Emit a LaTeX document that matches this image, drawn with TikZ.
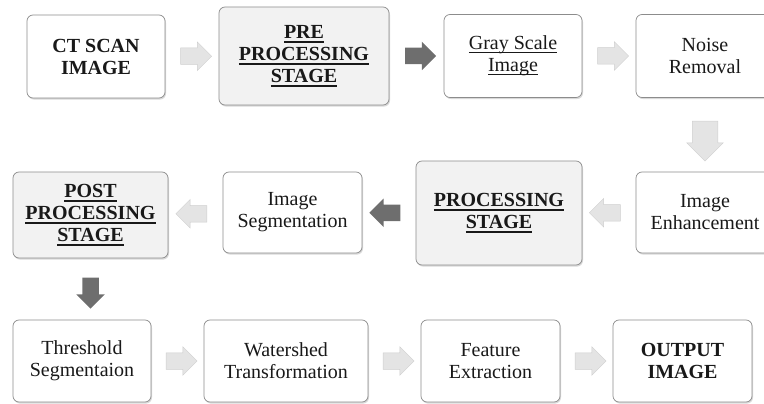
\documentclass[tikz,border=0pt]{standalone}
\usepackage{fontspec}
\setmainfont{Liberation Serif}
\newfontfamily\stepserif{Liberation Serif}
\usetikzlibrary{shapes.arrows,shadows,calc}
\definecolor{boxline}{HTML}{8C8C8C}
\definecolor{boxgray}{HTML}{F2F2F2}
\definecolor{arrdark}{HTML}{6E6E6E}
\definecolor{arrlight}{HTML}{E4E4E4}
\definecolor{arrlightline}{HTML}{CFCFCF}
\newcommand{\stepfont}{\stepserif\fontsize{20}{22}\selectfont}
\newcommand{\thinul}[1]{\setbox0\hbox{#1}\rlap{\copy0}\rule[-3.4pt]{\wd0}{0.8pt}}
\newcommand{\thickul}[1]{\setbox0\hbox{#1}\rlap{\copy0}\rule[-4.4pt]{\wd0}{1.6pt}}
\tikzset{
  stepbox/.style={draw=boxline, line width=0.7pt, rounded corners=6pt, fill=white,
    align=center, inner sep=0pt, minimum width=138pt, minimum height=83pt,
    font=\stepfont, text=black!90,
    drop shadow={shadow xshift=1pt, shadow yshift=-1.6pt, opacity=0.3}},
  boldbox/.style={stepbox, font=\stepfont\bfseries},
  graybox/.style={boldbox, fill=boxgray},
  litarrow/.style={single arrow, draw=arrlightline, fill=arrlight, line width=0.5pt,
    inner sep=8pt, minimum height=31pt, single arrow head extend=6pt},
  darkarrow/.style={litarrow, draw=none, fill=arrdark}
}
\begin{document}
\begin{tikzpicture}[x=1pt, y=-1pt]
    \useasboundingbox (0,0) rectangle (764,404);
    \clip (0,0) rectangle (764,404);
    % first row
    \node[boldbox] (ct) at (96,56.5) {CT SCAN\\IMAGE};
    \node[graybox, minimum width=170pt, minimum height=98pt] (pre) at (304,56)
        {\thickul{PRE}\\\thickul{PROCESSING}\\\thickul{STAGE}};
    \node[stepbox] (gray) at (513,56) {\thinul{Gray Scale}\\\thinul{Image}};
    \node[stepbox] (noise) at (705,56) {Noise\\Removal};
    % second row
    \node[stepbox, minimum height=81pt] (enh) at (705,212.5) {Image\\Enhancement};
    \node[graybox, minimum width=166pt, minimum height=104pt] (proc) at (499,213)
        {\thickul{PROCESSING}\\\thickul{STAGE}};
    \node[stepbox, minimum width=139pt, minimum height=81pt] (seg) at (292.5,212.5)
        {Image\\Segmentation};
    \node[graybox, minimum width=155pt, minimum height=86pt] (post) at (90.5,215)
        {\thickul{POST}\\\thickul{PROCESSING}\\\thickul{STAGE}};
    % third row
    \node[stepbox, minimum height=82pt] (thr) at (82,361) {Threshold\\Segmentaion};
    \node[stepbox, minimum width=164pt, minimum height=82pt] (wat) at (286,361)
        {Watershed\\Transformation};
    \node[stepbox, minimum width=139pt, minimum height=82pt] (feat) at (490.5,361)
        {Feature\\Extraction};
    \node[boldbox, minimum width=139pt, minimum height=82pt] (out) at (682.5,361)
        {OUTPUT\\IMAGE};
    % block arrows
    \node[litarrow] (a1) at ($(ct.east)!0.5!(pre.west)$) {};
    \node[darkarrow] (a2) at ($(pre.east)!0.5!(gray.west)$) {};
    \node[litarrow] (a3) at ($(gray.east)!0.5!(noise.west)$) {};
    \node[litarrow, shape border rotate=270, minimum height=40pt, inner sep=12.5pt,
        single arrow head extend=5.5pt] (a4) at ($(noise.south)!0.5!(enh.north)$) {};
    \node[litarrow, shape border rotate=180] (a5) at ($(enh.west)!0.5!(proc.east)$) {};
    \node[darkarrow, shape border rotate=180] (a6) at ($(proc.west)!0.5!(seg.east)$) {};
    \node[litarrow, shape border rotate=180] (a7) at ($(seg.west)!0.5!(post.east)$) {};
    \node[darkarrow, shape border rotate=270] (a8)
        at ($(post.south)!0.5!(post.south |- thr.north)$) {};
    \node[litarrow] (a9) at ($(thr.east)!0.5!(wat.west)$) {};
    \node[litarrow] (a10) at ($(wat.east)!0.5!(feat.west)$) {};
    \node[litarrow] (a11) at ($(feat.east)!0.5!(out.west)$) {};
\end{tikzpicture}
\end{document}
